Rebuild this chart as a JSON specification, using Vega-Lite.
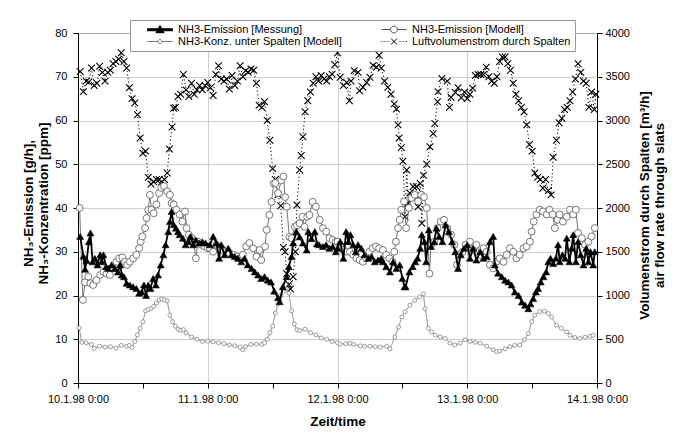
{
"$schema": "https://vega.github.io/schema/vega-lite/v6.json",
"width": 519, "height": 350,
"autosize": {"type": "none"},
"padding": {"left": 78, "top": 33, "right": 81, "bottom": 50},
"background": "white",
"config": {
  "font": "Liberation Sans",
  "view": {"stroke": "#444", "strokeWidth": 1},
  "axis": {"labelFont": "Liberation Sans", "labelFontSize": 11, "labelColor": "#000", "titleFont": "Liberation Sans", "titleFontSize": 13.5, "titleFontWeight": "bold", "titleColor": "#000", "domainColor": "#000", "tickColor": "#000", "gridColor": "#c4c4c4", "gridWidth": 0.8, "tickSize": 5, "titleLineHeight": 15}
},
"datasets": {
"mess": [
{"t":"1998-01-10T00:24","v":33.5},{"t":"1998-01-10T01:00","v":29},{"t":"1998-01-10T01:18","v":26},{"t":"1998-01-10T01:36","v":28},{"t":"1998-01-10T02:00","v":32.3},{"t":"1998-01-10T02:18","v":34.3},{"t":"1998-01-10T02:42","v":27.7},{"t":"1998-01-10T03:06","v":28.5},{"t":"1998-01-10T03:36","v":27},{"t":"1998-01-10T04:06","v":29.3},{"t":"1998-01-10T04:24","v":27.7},{"t":"1998-01-10T04:42","v":29.3},{"t":"1998-01-10T05:12","v":26.6},{"t":"1998-01-10T05:36","v":26.2},{"t":"1998-01-10T06:12","v":27},{"t":"1998-01-10T06:48","v":26.2},{"t":"1998-01-10T07:24","v":25.4},{"t":"1998-01-10T07:48","v":27},{"t":"1998-01-10T08:06","v":24.7},{"t":"1998-01-10T08:30","v":24.3},{"t":"1998-01-10T09:00","v":22.8},{"t":"1998-01-10T09:36","v":22.4},{"t":"1998-01-10T10:12","v":22},{"t":"1998-01-10T10:48","v":21.6},{"t":"1998-01-10T11:18","v":20.5},{"t":"1998-01-10T11:48","v":20.8},{"t":"1998-01-10T12:12","v":22.4},{"t":"1998-01-10T12:36","v":20},{"t":"1998-01-10T13:00","v":22.4},{"t":"1998-01-10T13:24","v":21.6},{"t":"1998-01-10T13:54","v":23.9},{"t":"1998-01-10T14:24","v":22.4},{"t":"1998-01-10T14:48","v":24.7},{"t":"1998-01-10T15:18","v":27},{"t":"1998-01-10T15:48","v":29.3},{"t":"1998-01-10T16:12","v":31.6},{"t":"1998-01-10T16:42","v":34.6},{"t":"1998-01-10T17:00","v":36.9},{"t":"1998-01-10T17:18","v":39.2},{"t":"1998-01-10T17:42","v":36.2},{"t":"1998-01-10T18:06","v":35.4},{"t":"1998-01-10T18:30","v":34.6},{"t":"1998-01-10T18:48","v":33.9},{"t":"1998-01-10T19:24","v":33.1},{"t":"1998-01-10T19:54","v":31.6},{"t":"1998-01-10T20:24","v":32.3},{"t":"1998-01-10T20:48","v":33.5},{"t":"1998-01-10T21:18","v":31.6},{"t":"1998-01-10T21:48","v":32.7},{"t":"1998-01-10T22:24","v":32},{"t":"1998-01-10T23:00","v":32.3},{"t":"1998-01-10T23:36","v":32},
{"t":"1998-01-11T00:24","v":31.6},{"t":"1998-01-11T01:00","v":33.5},{"t":"1998-01-11T01:36","v":32},{"t":"1998-01-11T02:06","v":28.5},{"t":"1998-01-11T02:30","v":31.6},{"t":"1998-01-11T03:06","v":29.3},{"t":"1998-01-11T03:48","v":30.8},{"t":"1998-01-11T04:24","v":29.3},{"t":"1998-01-11T05:00","v":28.9},{"t":"1998-01-11T05:36","v":28.5},{"t":"1998-01-11T06:12","v":27.7},{"t":"1998-01-11T06:48","v":28.5},{"t":"1998-01-11T07:24","v":27},{"t":"1998-01-11T08:06","v":26.2},{"t":"1998-01-11T08:42","v":25.4},{"t":"1998-01-11T09:18","v":24.7},{"t":"1998-01-11T09:54","v":23.9},{"t":"1998-01-11T10:30","v":24.3},{"t":"1998-01-11T11:06","v":23.5},{"t":"1998-01-11T11:42","v":23.1},{"t":"1998-01-11T12:18","v":21},{"t":"1998-01-11T13:00","v":19.5},{"t":"1998-01-11T13:18","v":18.6},{"t":"1998-01-11T13:54","v":22},{"t":"1998-01-11T14:36","v":24.3},{"t":"1998-01-11T15:00","v":26.6},{"t":"1998-01-11T15:30","v":28.9},{"t":"1998-01-11T15:48","v":32},{"t":"1998-01-11T16:24","v":34.6},{"t":"1998-01-11T17:00","v":33.4},{"t":"1998-01-11T17:36","v":32},{"t":"1998-01-11T18:18","v":30.4},{"t":"1998-01-11T18:36","v":34.6},{"t":"1998-01-11T19:12","v":33},{"t":"1998-01-11T19:48","v":34.6},{"t":"1998-01-11T20:12","v":31.8},{"t":"1998-01-11T20:36","v":31.6},{"t":"1998-01-11T21:18","v":31.2},{"t":"1998-01-11T21:54","v":31.6},{"t":"1998-01-11T22:30","v":30.8},{"t":"1998-01-11T23:06","v":31.2},{"t":"1998-01-11T23:42","v":30},
{"t":"1998-01-12T00:00","v":30.8},{"t":"1998-01-12T00:30","v":32.3},{"t":"1998-01-12T01:06","v":28.5},{"t":"1998-01-12T01:36","v":34.6},{"t":"1998-01-12T02:00","v":32.3},{"t":"1998-01-12T02:24","v":33.9},{"t":"1998-01-12T02:54","v":31.6},{"t":"1998-01-12T03:24","v":30},{"t":"1998-01-12T03:48","v":31.6},{"t":"1998-01-12T04:24","v":30.8},{"t":"1998-01-12T05:00","v":29.3},{"t":"1998-01-12T05:42","v":28.5},{"t":"1998-01-12T06:18","v":28.9},{"t":"1998-01-12T06:54","v":27.7},{"t":"1998-01-12T07:30","v":28.1},{"t":"1998-01-12T08:06","v":28.5},{"t":"1998-01-12T08:24","v":27.7},{"t":"1998-01-12T09:00","v":26.6},{"t":"1998-01-12T09:42","v":25.4},{"t":"1998-01-12T10:18","v":27.7},{"t":"1998-01-12T10:54","v":26.2},{"t":"1998-01-12T11:30","v":27},{"t":"1998-01-12T12:00","v":23.9},{"t":"1998-01-12T12:24","v":22},{"t":"1998-01-12T12:36","v":22},{"t":"1998-01-12T13:18","v":25.4},{"t":"1998-01-12T13:54","v":26.6},{"t":"1998-01-12T14:24","v":27.7},{"t":"1998-01-12T14:48","v":28.5},{"t":"1998-01-12T15:18","v":30.8},{"t":"1998-01-12T15:36","v":33.9},{"t":"1998-01-12T16:06","v":32.3},{"t":"1998-01-12T16:24","v":27.7},{"t":"1998-01-12T16:54","v":35},{"t":"1998-01-12T17:18","v":31.2},{"t":"1998-01-12T17:54","v":32.3},{"t":"1998-01-12T18:18","v":35.4},{"t":"1998-01-12T18:48","v":33.5},{"t":"1998-01-12T19:24","v":32.3},{"t":"1998-01-12T20:00","v":36.2},{"t":"1998-01-12T20:36","v":34.6},{"t":"1998-01-12T21:12","v":32.3},{"t":"1998-01-12T21:48","v":30},{"t":"1998-01-12T22:18","v":26.2},{"t":"1998-01-12T22:48","v":29.3},{"t":"1998-01-12T23:24","v":30.8},
{"t":"1998-01-13T00:00","v":31.6},{"t":"1998-01-13T00:30","v":28.5},{"t":"1998-01-13T01:06","v":30.8},{"t":"1998-01-13T01:42","v":28.1},{"t":"1998-01-13T02:24","v":30},{"t":"1998-01-13T03:00","v":28.5},{"t":"1998-01-13T03:36","v":28.9},{"t":"1998-01-13T04:12","v":32.3},{"t":"1998-01-13T04:48","v":33.5},{"t":"1998-01-13T05:06","v":27},{"t":"1998-01-13T05:42","v":25.1},{"t":"1998-01-13T06:24","v":24.3},{"t":"1998-01-13T07:00","v":23.5},{"t":"1998-01-13T07:36","v":23.1},{"t":"1998-01-13T08:12","v":22.4},{"t":"1998-01-13T08:48","v":20.8},{"t":"1998-01-13T09:30","v":20},{"t":"1998-01-13T10:06","v":18.5},{"t":"1998-01-13T10:42","v":17.8},{"t":"1998-01-13T11:18","v":17},{"t":"1998-01-13T11:42","v":18.1},{"t":"1998-01-13T12:12","v":19.3},{"t":"1998-01-13T12:42","v":20.8},{"t":"1998-01-13T13:06","v":21.6},{"t":"1998-01-13T13:36","v":23.1},{"t":"1998-01-13T14:06","v":24.3},{"t":"1998-01-13T14:36","v":25.4},{"t":"1998-01-13T15:00","v":27.7},{"t":"1998-01-13T15:24","v":28.5},{"t":"1998-01-13T15:54","v":27.3},{"t":"1998-01-13T16:24","v":28.5},{"t":"1998-01-13T16:48","v":31.6},{"t":"1998-01-13T17:06","v":27.7},{"t":"1998-01-13T17:36","v":29.3},{"t":"1998-01-13T18:06","v":28.5},{"t":"1998-01-13T18:24","v":33.1},{"t":"1998-01-13T18:54","v":27.7},{"t":"1998-01-13T19:18","v":30.8},{"t":"1998-01-13T19:36","v":33.9},{"t":"1998-01-13T20:06","v":27.7},{"t":"1998-01-13T20:30","v":32.3},{"t":"1998-01-13T21:00","v":29.3},{"t":"1998-01-13T21:30","v":27},{"t":"1998-01-13T22:00","v":30.8},{"t":"1998-01-13T22:24","v":27.7},{"t":"1998-01-13T22:48","v":30},{"t":"1998-01-13T23:18","v":27},{"t":"1998-01-13T23:36","v":30}
],
"modell": [
{"t":"1998-01-10T00:18","v":40},{"t":"1998-01-10T00:54","v":19},{"t":"1998-01-10T01:18","v":23},{"t":"1998-01-10T01:54","v":24.3},{"t":"1998-01-10T02:18","v":22.8},{"t":"1998-01-10T02:48","v":22.4},{"t":"1998-01-10T03:24","v":23.5},{"t":"1998-01-10T04:06","v":24.7},{"t":"1998-01-10T04:42","v":25.4},{"t":"1998-01-10T05:18","v":25},{"t":"1998-01-10T05:54","v":24.7},{"t":"1998-01-10T06:30","v":26.2},{"t":"1998-01-10T07:06","v":27.7},{"t":"1998-01-10T07:36","v":28.5},{"t":"1998-01-10T08:12","v":28.7},{"t":"1998-01-10T08:42","v":27.7},{"t":"1998-01-10T09:06","v":27},{"t":"1998-01-10T09:36","v":27.7},{"t":"1998-01-10T10:12","v":28.5},{"t":"1998-01-10T10:48","v":29.3},{"t":"1998-01-10T11:18","v":30.8},{"t":"1998-01-10T11:36","v":32.3},{"t":"1998-01-10T11:54","v":33.5},{"t":"1998-01-10T12:24","v":35.4},{"t":"1998-01-10T12:42","v":37.7},{"t":"1998-01-10T13:00","v":39.6},{"t":"1998-01-10T13:18","v":43},{"t":"1998-01-10T13:36","v":39.6},{"t":"1998-01-10T14:00","v":38.8},{"t":"1998-01-10T14:30","v":40.8},{"t":"1998-01-10T15:00","v":43.4},{"t":"1998-01-10T15:24","v":44.6},{"t":"1998-01-10T15:54","v":45},{"t":"1998-01-10T16:30","v":43.8},{"t":"1998-01-10T17:00","v":43},{"t":"1998-01-10T17:18","v":41.1},{"t":"1998-01-10T17:42","v":40.8},{"t":"1998-01-10T18:12","v":39.6},{"t":"1998-01-10T18:48","v":38.5},{"t":"1998-01-10T19:18","v":36.9},{"t":"1998-01-10T19:48","v":39.2},{"t":"1998-01-10T20:06","v":35.4},{"t":"1998-01-10T20:30","v":33.9},{"t":"1998-01-10T21:00","v":33.1},{"t":"1998-01-10T21:24","v":32},{"t":"1998-01-10T21:48","v":28.5},{"t":"1998-01-10T22:12","v":32.3},{"t":"1998-01-10T22:48","v":31.6},{"t":"1998-01-10T23:24","v":31.2},
{"t":"1998-01-11T00:00","v":30.8},{"t":"1998-01-11T00:24","v":30.8},{"t":"1998-01-11T01:00","v":30},{"t":"1998-01-11T01:36","v":31.6},{"t":"1998-01-11T02:12","v":30.8},{"t":"1998-01-11T02:48","v":30.4},{"t":"1998-01-11T03:24","v":30},{"t":"1998-01-11T04:00","v":29.7},{"t":"1998-01-11T04:42","v":29.3},{"t":"1998-01-11T05:18","v":28.9},{"t":"1998-01-11T05:54","v":28.5},{"t":"1998-01-11T06:30","v":29.3},{"t":"1998-01-11T07:06","v":31.2},{"t":"1998-01-11T07:42","v":32},{"t":"1998-01-11T08:24","v":30.8},{"t":"1998-01-11T09:00","v":28.9},{"t":"1998-01-11T09:36","v":30.4},{"t":"1998-01-11T09:54","v":28.1},{"t":"1998-01-11T10:36","v":31.2},{"t":"1998-01-11T10:54","v":35},{"t":"1998-01-11T11:24","v":38.4},{"t":"1998-01-11T11:48","v":41.4},{"t":"1998-01-11T12:12","v":45.6},{"t":"1998-01-11T12:30","v":45.7},{"t":"1998-01-11T13:00","v":43.4},{"t":"1998-01-11T13:36","v":46.3},{"t":"1998-01-11T14:00","v":47.2},{"t":"1998-01-11T14:18","v":42.5},{"t":"1998-01-11T14:36","v":40.3},{"t":"1998-01-11T15:06","v":33.4},{"t":"1998-01-11T15:30","v":33.1},{"t":"1998-01-11T16:06","v":35.7},{"t":"1998-01-11T16:30","v":36},{"t":"1998-01-11T17:00","v":36.5},{"t":"1998-01-11T17:30","v":38},{"t":"1998-01-11T17:54","v":35.7},{"t":"1998-01-11T18:24","v":38},{"t":"1998-01-11T18:48","v":38.4},{"t":"1998-01-11T19:24","v":41.4},{"t":"1998-01-11T20:00","v":40.3},{"t":"1998-01-11T20:42","v":37.3},{"t":"1998-01-11T21:18","v":35.4},{"t":"1998-01-11T21:54","v":34.6},{"t":"1998-01-11T22:30","v":33.1},{"t":"1998-01-11T23:06","v":32.7},{"t":"1998-01-11T23:42","v":32.3},
{"t":"1998-01-12T00:00","v":32.3},{"t":"1998-01-12T00:30","v":31.6},{"t":"1998-01-12T01:06","v":30.4},{"t":"1998-01-12T01:42","v":30},{"t":"1998-01-12T02:18","v":30},{"t":"1998-01-12T02:54","v":29.3},{"t":"1998-01-12T03:30","v":28.5},{"t":"1998-01-12T04:06","v":28.1},{"t":"1998-01-12T04:42","v":27.7},{"t":"1998-01-12T05:18","v":28.5},{"t":"1998-01-12T05:54","v":30},{"t":"1998-01-12T06:30","v":30.8},{"t":"1998-01-12T07:06","v":31.2},{"t":"1998-01-12T07:42","v":30.8},{"t":"1998-01-12T08:24","v":30.4},{"t":"1998-01-12T09:00","v":29.3},{"t":"1998-01-12T09:36","v":28.5},{"t":"1998-01-12T10:12","v":27.7},{"t":"1998-01-12T10:30","v":30},{"t":"1998-01-12T10:48","v":32.3},{"t":"1998-01-12T11:12","v":35.4},{"t":"1998-01-12T11:30","v":37.3},{"t":"1998-01-12T11:48","v":39.6},{"t":"1998-01-12T12:18","v":41.5},{"t":"1998-01-12T12:42","v":35.4},{"t":"1998-01-12T13:12","v":40},{"t":"1998-01-12T13:42","v":42.3},{"t":"1998-01-12T14:18","v":43},{"t":"1998-01-12T14:54","v":41.5},{"t":"1998-01-12T15:30","v":43},{"t":"1998-01-12T16:00","v":42.5},{"t":"1998-01-12T16:30","v":40},{"t":"1998-01-12T17:00","v":25},{"t":"1998-01-12T17:18","v":31.6},{"t":"1998-01-12T17:54","v":32.3},{"t":"1998-01-12T18:30","v":35.4},{"t":"1998-01-12T19:06","v":36.9},{"t":"1998-01-12T19:42","v":37.3},{"t":"1998-01-12T20:18","v":35.4},{"t":"1998-01-12T21:00","v":33.9},{"t":"1998-01-12T21:36","v":31.6},{"t":"1998-01-12T22:06","v":27},{"t":"1998-01-12T22:30","v":29.3},{"t":"1998-01-12T23:06","v":30},{"t":"1998-01-12T23:42","v":31.6},
{"t":"1998-01-13T00:30","v":32.3},{"t":"1998-01-13T01:06","v":30.4},{"t":"1998-01-13T01:42","v":31.6},{"t":"1998-01-13T02:24","v":29.3},{"t":"1998-01-13T03:00","v":30.8},{"t":"1998-01-13T03:36","v":30},{"t":"1998-01-13T04:12","v":27},{"t":"1998-01-13T04:48","v":26.2},{"t":"1998-01-13T05:24","v":27.7},{"t":"1998-01-13T06:00","v":28.5},{"t":"1998-01-13T06:42","v":27.7},{"t":"1998-01-13T07:18","v":29.3},{"t":"1998-01-13T07:54","v":30.8},{"t":"1998-01-13T08:30","v":30},{"t":"1998-01-13T09:06","v":28.5},{"t":"1998-01-13T09:42","v":29.3},{"t":"1998-01-13T10:24","v":30.8},{"t":"1998-01-13T11:00","v":31.2},{"t":"1998-01-13T11:36","v":32.3},{"t":"1998-01-13T11:54","v":34.6},{"t":"1998-01-13T12:18","v":36.9},{"t":"1998-01-13T12:48","v":38.5},{"t":"1998-01-13T13:24","v":39.6},{"t":"1998-01-13T14:00","v":39.2},{"t":"1998-01-13T14:42","v":38.5},{"t":"1998-01-13T15:12","v":39.6},{"t":"1998-01-13T15:48","v":38.5},{"t":"1998-01-13T16:12","v":35.4},{"t":"1998-01-13T16:42","v":37.3},{"t":"1998-01-13T17:06","v":38.5},{"t":"1998-01-13T17:42","v":36.9},{"t":"1998-01-13T18:24","v":38},{"t":"1998-01-13T19:00","v":39.6},{"t":"1998-01-13T19:36","v":38.5},{"t":"1998-01-13T20:06","v":39.6},{"t":"1998-01-13T20:30","v":34.3},{"t":"1998-01-13T21:12","v":33.1},{"t":"1998-01-13T21:48","v":31.6},{"t":"1998-01-13T22:24","v":32.3},{"t":"1998-01-13T23:00","v":33.5},{"t":"1998-01-13T23:36","v":35.4}
],
"konz": [
{"t":"1998-01-10T00:12","v":12.6},{"t":"1998-01-10T00:42","v":9.3},{"t":"1998-01-10T01:30","v":9.2},{"t":"1998-01-10T02:30","v":8.8},{"t":"1998-01-10T03:00","v":7.9},{"t":"1998-01-10T04:00","v":8.4},{"t":"1998-01-10T05:00","v":8.2},{"t":"1998-01-10T06:00","v":8.3},{"t":"1998-01-10T07:00","v":8},{"t":"1998-01-10T08:00","v":8.6},{"t":"1998-01-10T09:00","v":8.4},{"t":"1998-01-10T09:30","v":8.6},{"t":"1998-01-10T10:00","v":8.1},{"t":"1998-01-10T10:30","v":9.5},{"t":"1998-01-10T11:00","v":11},{"t":"1998-01-10T11:30","v":12.5},{"t":"1998-01-10T12:00","v":14},{"t":"1998-01-10T12:30","v":16.5},{"t":"1998-01-10T13:00","v":16.8},{"t":"1998-01-10T13:30","v":17},{"t":"1998-01-10T14:00","v":17.5},{"t":"1998-01-10T14:30","v":18.3},{"t":"1998-01-10T15:00","v":19},{"t":"1998-01-10T15:30","v":19.2},{"t":"1998-01-10T16:00","v":19},{"t":"1998-01-10T16:30","v":18.8},{"t":"1998-01-10T17:00","v":15.5},{"t":"1998-01-10T17:30","v":14},{"t":"1998-01-10T18:00","v":13},{"t":"1998-01-10T18:30","v":12.3},{"t":"1998-01-10T19:00","v":12},{"t":"1998-01-10T19:30","v":12.2},{"t":"1998-01-10T20:00","v":11.5},{"t":"1998-01-10T21:00","v":10.5},{"t":"1998-01-10T22:00","v":10},{"t":"1998-01-10T23:00","v":9.5},
{"t":"1998-01-11T00:00","v":9.6},{"t":"1998-01-11T01:00","v":9.4},{"t":"1998-01-11T02:00","v":9.2},{"t":"1998-01-11T03:00","v":9},{"t":"1998-01-11T04:00","v":8.7},{"t":"1998-01-11T05:00","v":8.5},{"t":"1998-01-11T06:00","v":8.2},{"t":"1998-01-11T06:30","v":7.6},{"t":"1998-01-11T07:00","v":8.3},{"t":"1998-01-11T08:00","v":8.8},{"t":"1998-01-11T09:00","v":8.9},{"t":"1998-01-11T10:00","v":8.8},{"t":"1998-01-11T10:30","v":9.2},{"t":"1998-01-11T11:00","v":10},{"t":"1998-01-11T11:30","v":11.5},{"t":"1998-01-11T12:00","v":13},{"t":"1998-01-11T12:30","v":16},{"t":"1998-01-11T13:00","v":18},{"t":"1998-01-11T13:30","v":20},{"t":"1998-01-11T14:00","v":21},{"t":"1998-01-11T14:30","v":21.5},{"t":"1998-01-11T15:00","v":20.5},{"t":"1998-01-11T15:30","v":16.5},{"t":"1998-01-11T16:00","v":13.5},{"t":"1998-01-11T16:30","v":12.2},{"t":"1998-01-11T17:00","v":12},{"t":"1998-01-11T18:00","v":12.3},{"t":"1998-01-11T19:00","v":11.5},{"t":"1998-01-11T20:00","v":11},{"t":"1998-01-11T21:00","v":10.3},{"t":"1998-01-11T22:00","v":10},{"t":"1998-01-11T23:00","v":9.5},
{"t":"1998-01-12T00:00","v":9.2},{"t":"1998-01-12T00:30","v":8.9},{"t":"1998-01-12T01:30","v":9},{"t":"1998-01-12T02:18","v":9.1},{"t":"1998-01-12T03:00","v":8.8},{"t":"1998-01-12T04:12","v":8.5},{"t":"1998-01-12T05:00","v":8.4},{"t":"1998-01-12T06:00","v":8.4},{"t":"1998-01-12T07:00","v":8.3},{"t":"1998-01-12T07:54","v":8.2},{"t":"1998-01-12T09:06","v":8.4},{"t":"1998-01-12T09:42","v":7.8},{"t":"1998-01-12T10:36","v":10.5},{"t":"1998-01-12T11:18","v":12.8},{"t":"1998-01-12T11:54","v":15.1},{"t":"1998-01-12T12:30","v":16.3},{"t":"1998-01-12T13:24","v":17.8},{"t":"1998-01-12T14:18","v":18.9},{"t":"1998-01-12T15:12","v":19.7},{"t":"1998-01-12T15:54","v":20.4},{"t":"1998-01-12T16:12","v":17},{"t":"1998-01-12T16:48","v":12.5},{"t":"1998-01-12T17:24","v":11.7},{"t":"1998-01-12T18:06","v":10.9},{"t":"1998-01-12T19:00","v":10.5},{"t":"1998-01-12T19:54","v":10.2},{"t":"1998-01-12T20:48","v":9.1},{"t":"1998-01-12T21:42","v":8.7},{"t":"1998-01-12T22:42","v":9.1},{"t":"1998-01-12T23:36","v":9.9},
{"t":"1998-01-13T00:30","v":9.5},{"t":"1998-01-13T01:30","v":9.3},{"t":"1998-01-13T02:24","v":9.1},{"t":"1998-01-13T03:36","v":8.4},{"t":"1998-01-13T04:48","v":7.6},{"t":"1998-01-13T05:24","v":7.2},{"t":"1998-01-13T06:00","v":7.3},{"t":"1998-01-13T07:00","v":7.8},{"t":"1998-01-13T07:54","v":8.3},{"t":"1998-01-13T08:48","v":8.6},{"t":"1998-01-13T09:42","v":8.7},{"t":"1998-01-13T10:36","v":9.9},{"t":"1998-01-13T11:18","v":11.3},{"t":"1998-01-13T11:54","v":14},{"t":"1998-01-13T12:30","v":15.5},{"t":"1998-01-13T13:24","v":16.3},{"t":"1998-01-13T14:18","v":16.4},{"t":"1998-01-13T15:00","v":15.9},{"t":"1998-01-13T15:36","v":15.1},{"t":"1998-01-13T16:30","v":13.2},{"t":"1998-01-13T17:24","v":12.5},{"t":"1998-01-13T18:24","v":11.7},{"t":"1998-01-13T19:00","v":10.9},{"t":"1998-01-13T19:54","v":10.4},{"t":"1998-01-13T20:48","v":10.2},{"t":"1998-01-13T21:48","v":10.5},{"t":"1998-01-13T22:42","v":10.7},{"t":"1998-01-13T23:18","v":10.9}
],
"vol": [
{"t":"1998-01-10T00:24","v":3560},{"t":"1998-01-10T01:00","v":3330},{"t":"1998-01-10T01:30","v":3450},{"t":"1998-01-10T02:00","v":3440},{"t":"1998-01-10T02:30","v":3600},{"t":"1998-01-10T03:00","v":3400},{"t":"1998-01-10T03:30","v":3425},{"t":"1998-01-10T04:00","v":3620},{"t":"1998-01-10T04:30","v":3550},{"t":"1998-01-10T05:00","v":3450},{"t":"1998-01-10T05:30","v":3550},{"t":"1998-01-10T06:00","v":3575},{"t":"1998-01-10T06:30","v":3650},{"t":"1998-01-10T07:00","v":3675},{"t":"1998-01-10T07:30","v":3700},{"t":"1998-01-10T08:00","v":3775},{"t":"1998-01-10T08:30","v":3675},{"t":"1998-01-10T09:00","v":3600},{"t":"1998-01-10T09:30","v":3375},{"t":"1998-01-10T10:00","v":3250},{"t":"1998-01-10T10:30","v":3200},{"t":"1998-01-10T11:00","v":3065},{"t":"1998-01-10T11:30","v":2800},{"t":"1998-01-10T12:00","v":2625},{"t":"1998-01-10T12:30","v":2650},{"t":"1998-01-10T13:00","v":2350},{"t":"1998-01-10T13:30","v":2275},{"t":"1998-01-10T14:00","v":2300},{"t":"1998-01-10T14:30","v":2325},{"t":"1998-01-10T15:00","v":2325},{"t":"1998-01-10T15:30","v":2300},{"t":"1998-01-10T16:00","v":2325},{"t":"1998-01-10T16:30","v":2400},{"t":"1998-01-10T16:54","v":2675},{"t":"1998-01-10T17:24","v":2925},{"t":"1998-01-10T17:42","v":3140},{"t":"1998-01-10T18:00","v":3150},{"t":"1998-01-10T18:30","v":3275},{"t":"1998-01-10T19:00","v":3300},{"t":"1998-01-10T19:30","v":3525},{"t":"1998-01-10T20:00","v":3350},{"t":"1998-01-10T20:30","v":3275},{"t":"1998-01-10T21:00","v":3425},{"t":"1998-01-10T21:30","v":3300},{"t":"1998-01-10T22:00","v":3350},{"t":"1998-01-10T22:30","v":3400},{"t":"1998-01-10T23:00","v":3350},{"t":"1998-01-10T23:30","v":3400},
{"t":"1998-01-11T00:00","v":3435},{"t":"1998-01-11T00:30","v":3375},{"t":"1998-01-11T01:00","v":3285},{"t":"1998-01-11T01:30","v":3525},{"t":"1998-01-11T02:00","v":3625},{"t":"1998-01-11T02:30","v":3475},{"t":"1998-01-11T03:00","v":3450},{"t":"1998-01-11T03:30","v":3475},{"t":"1998-01-11T04:00","v":3360},{"t":"1998-01-11T04:30","v":3515},{"t":"1998-01-11T05:00","v":3400},{"t":"1998-01-11T05:30","v":3450},{"t":"1998-01-11T06:00","v":3625},{"t":"1998-01-11T06:30","v":3500},{"t":"1998-01-11T07:00","v":3570},{"t":"1998-01-11T07:30","v":3550},{"t":"1998-01-11T08:00","v":3590},{"t":"1998-01-11T08:30","v":3575},{"t":"1998-01-11T09:00","v":3425},{"t":"1998-01-11T09:30","v":3175},{"t":"1998-01-11T10:00","v":3150},{"t":"1998-01-11T10:30","v":3215},{"t":"1998-01-11T11:00","v":3000},{"t":"1998-01-11T11:30","v":2775},{"t":"1998-01-11T12:00","v":2450},{"t":"1998-01-11T12:30","v":2325},{"t":"1998-01-11T13:00","v":2150},{"t":"1998-01-11T13:30","v":2025},{"t":"1998-01-11T14:00","v":1550},{"t":"1998-01-11T14:18","v":1500},{"t":"1998-01-11T14:36","v":1250},{"t":"1998-01-11T15:00","v":1125},{"t":"1998-01-11T15:18","v":1075},{"t":"1998-01-11T15:48","v":1215},{"t":"1998-01-11T16:12","v":1500},{"t":"1998-01-11T16:30","v":2035},{"t":"1998-01-11T17:00","v":2435},{"t":"1998-01-11T17:18","v":2600},{"t":"1998-01-11T17:36","v":2815},{"t":"1998-01-11T18:00","v":3100},{"t":"1998-01-11T18:30","v":3225},{"t":"1998-01-11T19:00","v":3325},{"t":"1998-01-11T19:30","v":3425},{"t":"1998-01-11T20:00","v":3500},{"t":"1998-01-11T20:30","v":3450},{"t":"1998-01-11T21:00","v":3515},{"t":"1998-01-11T21:30","v":3475},{"t":"1998-01-11T22:00","v":3450},{"t":"1998-01-11T22:30","v":3500},{"t":"1998-01-11T23:00","v":3530},{"t":"1998-01-11T23:30","v":3640},
{"t":"1998-01-12T00:00","v":3775},{"t":"1998-01-12T00:30","v":3495},{"t":"1998-01-12T01:06","v":3400},{"t":"1998-01-12T01:42","v":3435},{"t":"1998-01-12T02:12","v":3225},{"t":"1998-01-12T02:30","v":3450},{"t":"1998-01-12T03:06","v":3570},{"t":"1998-01-12T03:48","v":3550},{"t":"1998-01-12T04:06","v":3340},{"t":"1998-01-12T04:42","v":3380},{"t":"1998-01-12T05:24","v":3435},{"t":"1998-01-12T06:00","v":3495},{"t":"1998-01-12T06:36","v":3630},{"t":"1998-01-12T07:12","v":3610},{"t":"1998-01-12T07:42","v":3745},{"t":"1998-01-12T08:06","v":3600},{"t":"1998-01-12T08:42","v":3450},{"t":"1998-01-12T09:18","v":3380},{"t":"1998-01-12T09:54","v":3300},{"t":"1998-01-12T10:30","v":3190},{"t":"1998-01-12T10:54","v":3130},{"t":"1998-01-12T11:12","v":2950},{"t":"1998-01-12T11:24","v":2800},{"t":"1998-01-12T11:48","v":2690},{"t":"1998-01-12T12:06","v":2535},{"t":"1998-01-12T12:30","v":1900},{"t":"1998-01-12T12:48","v":2435},{"t":"1998-01-12T13:06","v":2055},{"t":"1998-01-12T13:24","v":2170},{"t":"1998-01-12T14:00","v":2245},{"t":"1998-01-12T14:36","v":2245},{"t":"1998-01-12T14:54","v":2015},{"t":"1998-01-12T15:18","v":2280},{"t":"1998-01-12T15:36","v":1825},{"t":"1998-01-12T15:54","v":2375},{"t":"1998-01-12T16:30","v":2500},{"t":"1998-01-12T17:06","v":2700},{"t":"1998-01-12T17:42","v":2850},{"t":"1998-01-12T18:00","v":2965},{"t":"1998-01-12T18:30","v":3215},{"t":"1998-01-12T18:36","v":3330},{"t":"1998-01-12T19:18","v":3480},{"t":"1998-01-12T20:18","v":3450},{"t":"1998-01-12T20:42","v":3150},{"t":"1998-01-12T21:00","v":3265},{"t":"1998-01-12T21:48","v":3320},{"t":"1998-01-12T22:18","v":3375},{"t":"1998-01-12T22:54","v":3260},{"t":"1998-01-12T23:30","v":3325},
{"t":"1998-01-13T00:00","v":3250},{"t":"1998-01-13T00:30","v":3300},{"t":"1998-01-13T01:00","v":3370},{"t":"1998-01-13T01:30","v":3515},{"t":"1998-01-13T02:00","v":3525},{"t":"1998-01-13T02:30","v":3525},{"t":"1998-01-13T03:00","v":3525},{"t":"1998-01-13T03:30","v":3610},{"t":"1998-01-13T04:00","v":3500},{"t":"1998-01-13T04:30","v":3450},{"t":"1998-01-13T05:00","v":3425},{"t":"1998-01-13T05:30","v":3500},{"t":"1998-01-13T06:00","v":3675},{"t":"1998-01-13T06:30","v":3725},{"t":"1998-01-13T07:00","v":3725},{"t":"1998-01-13T07:30","v":3650},{"t":"1998-01-13T08:00","v":3575},{"t":"1998-01-13T08:30","v":3425},{"t":"1998-01-13T09:00","v":3300},{"t":"1998-01-13T09:30","v":3225},{"t":"1998-01-13T10:00","v":3150},{"t":"1998-01-13T10:30","v":3100},{"t":"1998-01-13T11:00","v":2950},{"t":"1998-01-13T11:30","v":2725},{"t":"1998-01-13T12:00","v":2650},{"t":"1998-01-13T12:30","v":2400},{"t":"1998-01-13T13:00","v":2350},{"t":"1998-01-13T13:30","v":2325},{"t":"1998-01-13T14:00","v":2225},{"t":"1998-01-13T14:30","v":2325},{"t":"1998-01-13T15:00","v":2200},{"t":"1998-01-13T15:30","v":2150},{"t":"1998-01-13T15:54","v":2580},{"t":"1998-01-13T16:30","v":2775},{"t":"1998-01-13T17:00","v":2975},{"t":"1998-01-13T17:30","v":3025},{"t":"1998-01-13T18:00","v":3125},{"t":"1998-01-13T18:30","v":3150},{"t":"1998-01-13T19:00","v":3225},{"t":"1998-01-13T19:30","v":3325},{"t":"1998-01-13T20:00","v":3475},{"t":"1998-01-13T20:30","v":3650},{"t":"1998-01-13T21:00","v":3550},{"t":"1998-01-13T21:30","v":3450},{"t":"1998-01-13T22:00","v":3425},{"t":"1998-01-13T22:30","v":3150},{"t":"1998-01-13T23:00","v":3325},{"t":"1998-01-13T23:30","v":3125},{"t":"1998-01-13T23:48","v":3300}
]
},
"layer": [
{
  "data": {"name": "vol"},
  "encoding": {
    "x": {"field": "t", "type": "temporal"},
    "y": {"field": "v", "type": "quantitative", "scale": {"domain": [0, 4000], "nice": false},
      "axis": {"orient": "right", "values": [0,500,1000,1500,2000,2500,3000,3500,4000], "format": "d", "grid": false, "labelPadding": 3,
        "title": ["Volumenstrom durch Spalten [m³/h]", "air flow rate through slats"],
        "titleAngle": -90, "titleX": 47, "titleY": 172, "titleAlign": "center", "titleBaseline": "middle"}}
  },
  "layer": [
    {"mark": {"type": "line", "color": "#000", "strokeWidth": 1, "strokeDash": [1.2, 2.5]}, "encoding": {}},
    {"mark": {"type": "point", "shape": "M-1,-1L1,1M-1,1L1,-1", "size": 45, "filled": false, "stroke": "#000", "strokeWidth": 1.1, "opacity": 1}, "encoding": {}}
  ]
},
{
  "encoding": {
    "x": {"field": "t", "type": "temporal",
      "scale": {"domain": [{"year": 1998, "month": 1, "date": 10}, {"year": 1998, "month": 1, "date": 14}], "nice": false},
      "axis": {"title": "Zeit/time",
        "values": [{"year":1998,"month":1,"date":10,"hours":0},{"year":1998,"month":1,"date":10,"hours":6},{"year":1998,"month":1,"date":10,"hours":12},{"year":1998,"month":1,"date":10,"hours":18},{"year":1998,"month":1,"date":11,"hours":0},{"year":1998,"month":1,"date":11,"hours":6},{"year":1998,"month":1,"date":11,"hours":12},{"year":1998,"month":1,"date":11,"hours":18},{"year":1998,"month":1,"date":12,"hours":0},{"year":1998,"month":1,"date":12,"hours":6},{"year":1998,"month":1,"date":12,"hours":12},{"year":1998,"month":1,"date":12,"hours":18},{"year":1998,"month":1,"date":13,"hours":0},{"year":1998,"month":1,"date":13,"hours":6},{"year":1998,"month":1,"date":13,"hours":12},{"year":1998,"month":1,"date":13,"hours":18},{"year":1998,"month":1,"date":14,"hours":0}],
        "labelOverlap": false, "labelFlush": false,
        "labelExpr": "hours(datum.value) == 0 ? timeFormat(datum.value, '%-d.%-m.%y %-H:%M') : ''",
        "grid": true, "gridOpacity": {"condition": {"test": "hours(datum.value) == 0", "value": 1}, "value": 0},
        "labelPadding": 5, "titlePadding": 10}},
    "y": {"field": "v", "type": "quantitative", "scale": {"domain": [0, 80], "nice": false},
      "axis": {"values": [0,10,20,30,40,50,60,70,80], "grid": true, "labelPadding": 6,
        "title": ["NH₃-Emission [g/h],", "NH₃-Konzentration [ppm]"],
        "titleAngle": -90, "titleX": -50, "titleY": 170, "titleAlign": "center", "titleBaseline": "middle"}}
  },
  "layer": [
    {"data": {"name": "konz"}, "mark": {"type": "line", "color": "#8a8a8a", "strokeWidth": 0.9}, "encoding": {}},
    {"data": {"name": "konz"}, "mark": {"type": "point", "shape": "circle", "size": 16, "filled": true, "fill": "#fff", "stroke": "#777", "strokeWidth": 0.7, "opacity": 1}, "encoding": {}},
    {"data": {"name": "modell"}, "mark": {"type": "line", "color": "#666", "strokeWidth": 0.9}, "encoding": {}},
    {"data": {"name": "modell"}, "mark": {"type": "point", "shape": "circle", "size": 48, "filled": true, "fill": "#fff", "stroke": "#555", "strokeWidth": 0.8, "opacity": 1}, "encoding": {}},
    {"data": {"name": "mess"}, "mark": {"type": "line", "color": "#000", "strokeWidth": 1.8}, "encoding": {}},
    {"data": {"name": "mess"}, "mark": {"type": "point", "shape": "triangle-up", "size": 50, "filled": true, "fill": "#000", "stroke": "#000", "strokeWidth": 0.5, "opacity": 1}, "encoding": {}}
  ]
},
{
  "data": {"values": [{"s": "NH3-Emission [Messung]"}, {"s": "NH3-Emission [Modell]"}, {"s": "NH3-Konz. unter Spalten [Modell]"}, {"s": "Luftvolumenstrom durch Spalten"}]},
  "transform": [{"filter": "false"}],
  "mark": {"type": "point", "opacity": 1},
  "encoding": {
    "shape": {"field": "s", "type": "nominal",
      "scale": {"domain": ["NH3-Emission [Messung]", "NH3-Emission [Modell]", "NH3-Konz. unter Spalten [Modell]", "Luftvolumenstrom durch Spalten"],
        "range": ["M-2.5,-0.2L2.5,-0.2L2.5,0.2L-2.5,0.2Z M0,-0.85L0.8,0.6L-0.8,0.6Z",
                  "M-2.5,0L-0.7,0M0.7,0L2.5,0M0.7,0L0.606,0.35L0.35,0.606L0,0.7L-0.35,0.606L-0.606,0.35L-0.7,0L-0.606,-0.35L-0.35,-0.606L0,-0.7L0.35,-0.606L0.606,-0.35Z",
                  "M-2.5,0L-0.4,0M0.4,0L2.5,0M0.4,0L0.346,0.2L0.2,0.346L0,0.4L-0.2,0.346L-0.346,0.2L-0.4,0L-0.346,-0.2L-0.2,-0.346L0,-0.4L0.2,-0.346L0.346,-0.2Z",
                  "M-2.5,0L-2.3,0M-1.9,0L-1.7,0M-1.3,0L-1.1,0M1.1,0L1.3,0M1.7,0L1.9,0M2.3,0L2.5,0M-0.6,-0.6L0.6,0.6M-0.6,0.6L0.6,-0.6"]},
      "legend": {"title": null, "orient": "none", "legendX": 52, "legendY": -13, "columns": 2, "direction": "horizontal",
        "strokeColor": "#999", "fillColor": "#fff", "padding": 4,
        "labelFont": "Liberation Sans", "labelFontSize": 11, "labelColor": "#000", "labelOffset": 12.5, "labelLimit": 300,
        "symbolSize": 100, "symbolOffset": 20.5, "symbolStrokeWidth": 1, "symbolOpacity": 1, "rowPadding": 0, "columnPadding": 26}},
    "fill": {"field": "s", "type": "nominal",
      "scale": {"domain": ["NH3-Emission [Messung]", "NH3-Emission [Modell]", "NH3-Konz. unter Spalten [Modell]", "Luftvolumenstrom durch Spalten"],
        "range": ["#000", "#fff", "#fff", "transparent"]}},
    "stroke": {"field": "s", "type": "nominal",
      "scale": {"domain": ["NH3-Emission [Messung]", "NH3-Emission [Modell]", "NH3-Konz. unter Spalten [Modell]", "Luftvolumenstrom durch Spalten"],
        "range": ["#000", "#555", "#777", "#000"]}}
  }
}
],
"resolve": {"scale": {"y": "independent"}}
}
